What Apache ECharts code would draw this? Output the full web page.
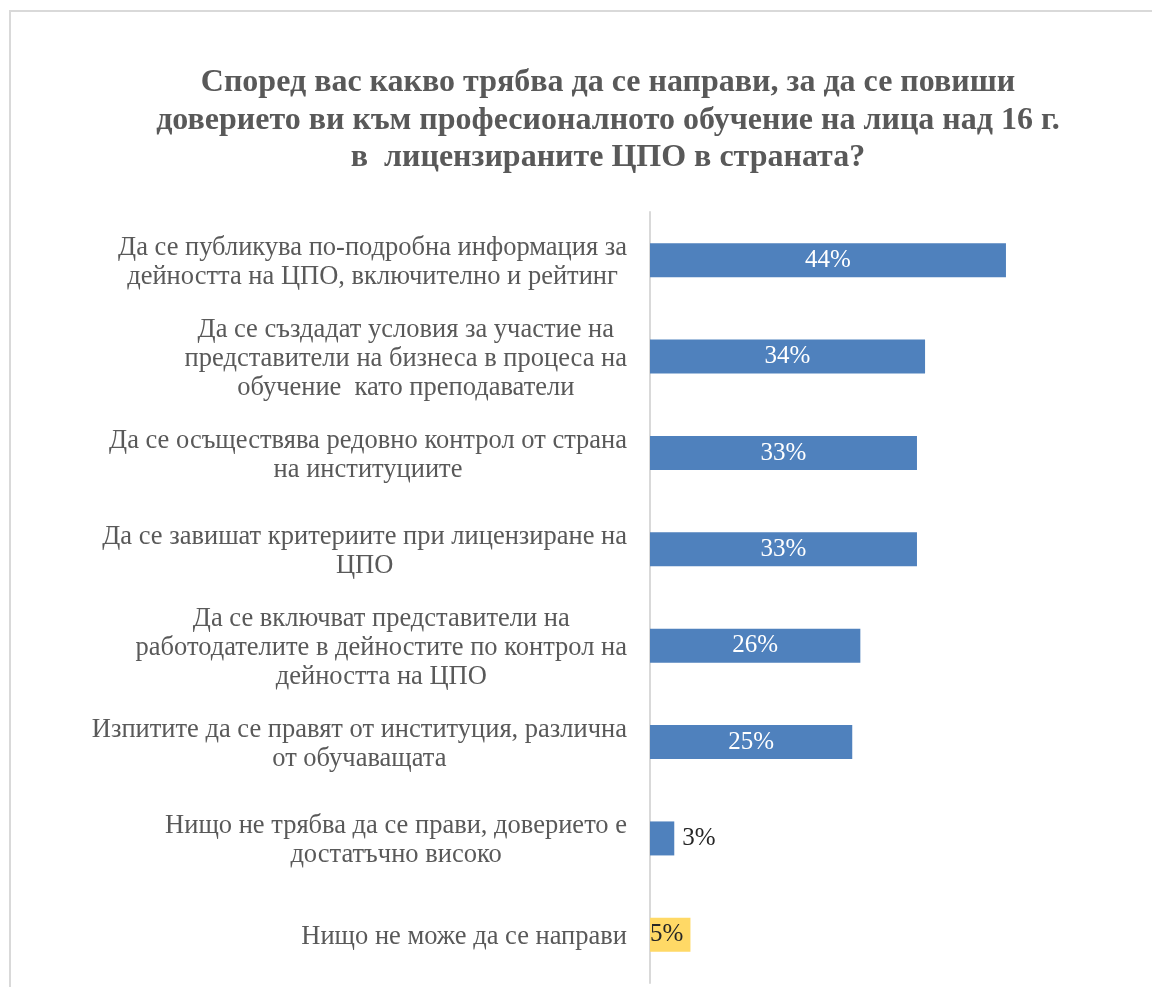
<!DOCTYPE html>
<html>
<head>
<meta charset="utf-8">
<script src="https://cdn.jsdelivr.net/npm/echarts@6/dist/echarts.min.js"></script>
<style>
  html, body { margin: 0; padding: 0; background: #ffffff; }
  #chart { width: 1152px; height: 987px; }
</style>
</head>
<body>
<div id="chart"></div>
<script>
// Survey question and answers (share of respondents, %)
const titleText = 'Според вас какво трябва да се направи, за да се повиши\nдоверието ви към професионалното обучение на лица над 16 г.\nв  лицензираните ЦПО в страната?';

const categories = [
  'Да се публикува по-подробна информация за\nдейността на ЦПО, включително и рейтинг',
  'Да се създадат условия за участие на\nпредставители на бизнеса в процеса на\nобучение  като преподаватели',
  'Да се осъществява редовно контрол от страна\nна институциите',
  'Да се завишат критериите при лицензиране на\nЦПО',
  'Да се включват представители на\nработодателите в дейностите по контрол на\nдейността на ЦПО',
  'Изпитите да се правят от институция, различна\nот обучаващата',
  'Нищо не трябва да се прави, доверието е\nдостатъчно високо',
  'Нищо не може да се направи'
];

const values = [44, 34, 33, 33, 26, 25, 3, 5];

const FONT = '"Liberation Serif", "Times New Roman", serif';
const BLUE = '#4F81BD';
const YELLOW = '#FFD966';

// Per-bar label placement: wide bars carry a white centred label,
// the narrow blue bar gets its label outside, the highlighted bar inside-left.
function labelFor(i, v) {
  if (i === values.length - 1) {
    return { show: true, position: 'insideLeft', distance: 0, color: '#262626' };
  }
  if (v < 10) {
    return { show: true, position: 'right', distance: 8, color: '#262626' };
  }
  return { show: true, position: 'inside', color: '#ffffff' };
}

const barData = values.map((v, i) => ({
  value: v,
  itemStyle: { color: i === values.length - 1 ? YELLOW : BLUE },
  label: labelFor(i, v)
}));

const chart = echarts.init(document.getElementById('chart'), null, { renderer: 'canvas' });

chart.setOption({
  animation: false,
  backgroundColor: '#ffffff',
  textStyle: { fontFamily: FONT },
  graphic: [{
    type: 'rect',
    silent: true,
    shape: { x: 10, y: 11, width: 1400, height: 1400 },
    style: { fill: 'none', stroke: '#d9d9d9', lineWidth: 2 }
  }],
  title: {
    text: titleText,
    left: 603,
    top: 59,
    textAlign: 'center',
    textStyle: {
      fontFamily: FONT,
      fontWeight: 'bold',
      fontSize: 32,
      lineHeight: 37.5,
      color: '#595959'
    }
  },
  grid: {
    left: 650,
    right: 97.5,
    top: 212,
    bottom: 4,
    containLabel: false
  },
  xAxis: {
    type: 'value',
    min: 0,
    max: 50,
    show: false,
    splitLine: { show: false }
  },
  yAxis: {
    type: 'category',
    data: categories,
    inverse: true,
    axisLine: { show: true, lineStyle: { color: '#d9d9d9', width: 2 } },
    axisTick: { show: false },
    axisLabel: {
      margin: 23,
      align: 'right',
      padding: [5, 0, 0, 0],
      fontFamily: FONT,
      fontSize: 26.5,
      lineHeight: 29,
      color: '#595959',
      // each wrapped line is centred inside the right-aligned label block
      formatter: (val) => val.split('\n').map(s => '{c|' + s + '}').join('\n'),
      rich: {
        c: {
          align: 'center',
          fontFamily: FONT,
          fontSize: 26.5,
          lineHeight: 29,
          color: '#595959'
        }
      }
    }
  },
  series: [{
    type: 'bar',
    data: barData,
    barWidth: 34,
    label: {
      fontFamily: FONT,
      fontSize: 25,
      formatter: (p) => p.value + '%'
    }
  }]
});
</script>
</body>
</html>
